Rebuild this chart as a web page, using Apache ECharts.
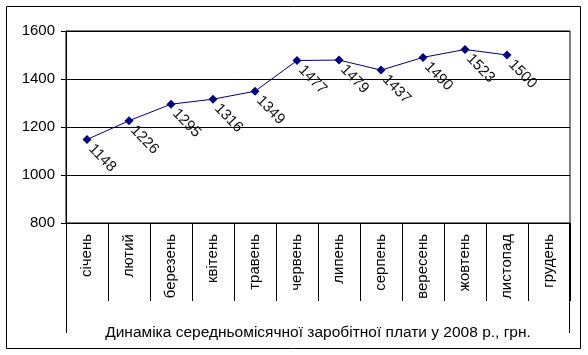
<!DOCTYPE html>
<html><head><meta charset="utf-8">
<script src="https://cdn.jsdelivr.net/npm/echarts@6/dist/echarts.min.js"></script>
<style>html,body{margin:0;padding:0;background:#fff}#c{width:588px;height:355px}</style>
</head><body><div id="c"></div>
<script>
const categories = ['січень','лютий','березень','квітень','травень','червень','липень','серпень','вересень','жовтень','листопад','грудень'];
const values = [1148,1226,1295,1316,1349,1477,1479,1437,1490,1523,1500,null];
const yTicks = [800,1000,1200,1400,1600];
const axisTitle = 'Динаміка середньомісячної заробітної плати у 2008 р., грн.';

const chart = echarts.init(document.getElementById('c'), null, {renderer:'canvas'});
const FONT = '"Liberation Sans", Arial, sans-serif';
chart.setOption({
  animation:false,
  backgroundColor:'#fff',
  textStyle:{fontFamily:FONT},
  grid:{left:66,right:18,top:31,bottom:132,show:true,borderColor:'#000',borderWidth:1,backgroundColor:'transparent'},
  xAxis:{
    type:'category', data:categories, boundaryGap:true,
    axisLine:{lineStyle:{color:'#000',width:1}},
    axisTick:{show:true,length:78,lineStyle:{color:'#000'}},
    axisLabel:{rotate:90,margin:11,fontSize:15,color:'#000',fontFamily:FONT,interval:0},
    name:axisTitle, nameLocation:'middle', nameGap:102,
    nameTextStyle:{fontSize:15.5,color:'#000',fontFamily:FONT}
  },
  yAxis:{
    type:'value', min:yTicks[0], max:yTicks[yTicks.length-1], interval:200,
    axisLine:{show:true,lineStyle:{color:'#000'}},
    axisTick:{show:true,length:5,lineStyle:{color:'#000'}},
    axisLabel:{fontSize:15,color:'#000',margin:11,fontFamily:FONT,formatter:function(v){return String(v);}},
    splitLine:{show:true,lineStyle:{color:'#000',width:1}}
  },
  series:[{
    type:'line', data:values, connectNulls:false,
    symbol:'diamond', symbolSize:9,
    lineStyle:{color:'#000080',width:1},
    itemStyle:{color:'#000080'},
    label:{show:true,position:[8.5,11.5],rotate:-46,align:'left',verticalAlign:'middle',
      fontSize:15,color:'#111',fontFamily:FONT}
  }],
  graphic:[
    {type:'rect',shape:{x:6.5,y:6.5,width:574,height:342},style:{fill:null,stroke:'#000',lineWidth:1},silent:true},
    {type:'line',shape:{x1:66.5,y1:223,x2:66.5,y2:333},style:{stroke:'#000',lineWidth:1},silent:true},
    {type:'line',shape:{x1:569.5,y1:223,x2:569.5,y2:333},style:{stroke:'#000',lineWidth:1},silent:true}
  ]
});
</script></body></html>
